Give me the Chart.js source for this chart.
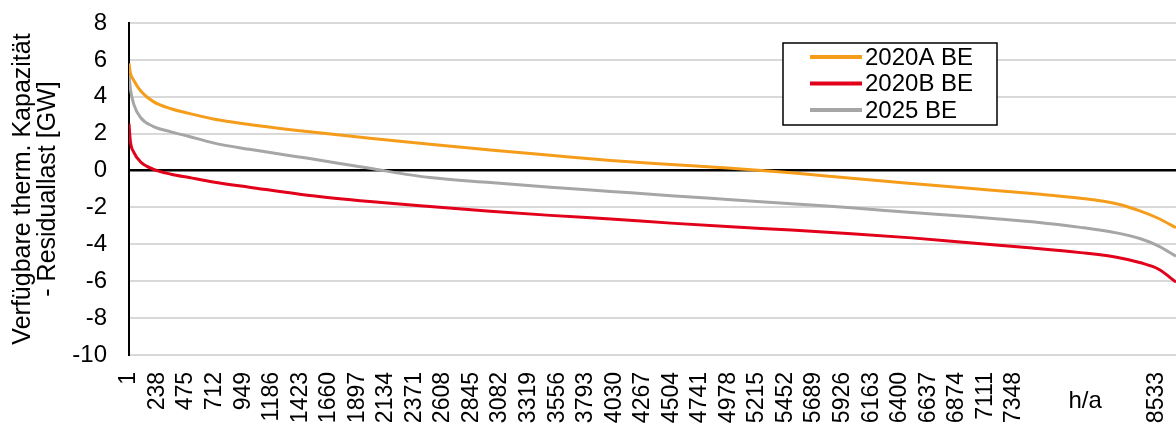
<!doctype html>
<html>
<head>
<title>Residuallast Dauerlinie BE</title>
<script src="https://cdn.jsdelivr.net/npm/chart.js@4/dist/chart.umd.min.js"></script>
<style>
	html, body { margin: 0; padding: 0; background: #fff; overflow: hidden; }
	#wrap { width: 1176px; height: 426px; }
</style>
</head>
<body>
<div id="wrap"><canvas id="canvas"></canvas></div>
<script>
	// hours of the year (sorted duration curve)
	var hours = [1, 12, 40, 100, 200, 350, 500, 700, 1000, 1500, 2000, 2500, 3000, 3500,
		4000, 4500, 5000, 5500, 6000, 6500, 7000, 7500, 7900, 8200, 8400, 8550, 8694];

	var be2020A = [5.8, 5.3, 4.9, 4.3, 3.75, 3.35, 3.1, 2.8, 2.5, 2.1, 1.75, 1.42, 1.12, 0.83,
		0.55, 0.33, 0.12, -0.12, -0.42, -0.7, -0.97, -1.25, -1.5, -1.8, -2.2, -2.6, -3.1];
	var be2020B = [2.55, 1.6, 1.0, 0.45, 0.08, -0.2, -0.38, -0.62, -0.9, -1.35, -1.68, -1.95, -2.2, -2.43,
		-2.63, -2.85, -3.05, -3.22, -3.42, -3.65, -3.93, -4.2, -4.45, -4.7, -5.0, -5.35, -6.05];
	var be2025 = [5.2, 4.45, 3.6, 2.85, 2.4, 2.1, 1.85, 1.5, 1.15, 0.65, 0.12, -0.38, -0.65, -0.9,
		-1.13, -1.36, -1.58, -1.8, -2.02, -2.28, -2.5, -2.78, -3.08, -3.38, -3.7, -4.1, -4.65];

	var seriesNames = ['2020A BE', '2020B BE', '2025 BE'];
	var seriesColors = ['#f59d1b', '#e2001a', '#a6a6a6'];

	// category labels shown under the axis (7585..8296 sit behind the "h/a" title)
	var xTickLabels = [1, 238, 475, 712, 949, 1186, 1423, 1660, 1897, 2134, 2371, 2608, 2845, 3082,
		3319, 3556, 3793, 4030, 4267, 4504, 4741, 4978, 5215, 5452, 5689, 5926, 6163, 6400, 6637,
		6874, 7111, 7348, 8533];
	var yTicks = [-10, -8, -6, -4, -2, 0, 2, 4, 6, 8];

	var FONT = "'Liberation Sans', Arial, sans-serif";

	function points(values) {
		return values.map(function(v, i) {
			return {x: hours[i], y: v};
		});
	}

	var boxLegend = {
		id: 'boxLegend',
		afterDraw: function(chart) {
			var ctx = chart.ctx;
			var bx = 783, by = 43, bw = 214, bh = 82;
			ctx.save();
			ctx.fillStyle = '#fff';
			ctx.fillRect(bx, by, bw, bh);
			ctx.strokeStyle = '#000';
			ctx.lineWidth = 1.5;
			ctx.strokeRect(bx, by, bw, bh);
			ctx.font = '24px ' + FONT;
			ctx.textBaseline = 'middle';
			ctx.textAlign = 'left';
			chart.data.datasets.forEach(function(ds, i) {
				var y = by + 14 + i * 26.5;
				ctx.strokeStyle = ds.borderColor;
				ctx.lineWidth = 4;
				ctx.beginPath();
				ctx.moveTo(810, y);
				ctx.lineTo(862, y);
				ctx.stroke();
				ctx.fillStyle = '#000';
				ctx.fillText(ds.label, 865, y + 1);
			});
			// axis title "h/a" sitting among the category labels
			var xs = chart.scales.x;
			ctx.font = '24px ' + FONT;
			ctx.textAlign = 'center';
			ctx.fillText('h/a', xs.getPixelForValue(7940), 401);
			ctx.restore();
		}
	};

	var config = {
		type: 'line',
		data: {
			datasets: seriesNames.map(function(name, i) {
				return {
					label: name,
					data: points([be2020A, be2020B, be2025][i]),
					borderColor: seriesColors[i],
					backgroundColor: seriesColors[i],
					borderWidth: 3,
					pointRadius: 0,
					fill: false,
					cubicInterpolationMode: 'monotone'
				};
			})
		},
		options: {
			responsive: true,
			maintainAspectRatio: false,
			animation: false,
			layout: {padding: {top: 23, right: 0, bottom: 0, left: 0}},
			plugins: {
				legend: {display: false},
				tooltip: {enabled: false}
			},
			scales: {
				x: {
					type: 'linear',
					min: 1,
					max: 8694,
					afterBuildTicks: function(axis) {
						axis.ticks = xTickLabels.map(function(v) { return {value: v}; });
					},
					afterFit: function(axis) {
						axis.height = 71;
						axis.paddingLeft = 0;
						axis.paddingRight = 0;
					},
					grid: {display: false, drawTicks: false},
					border: {display: false},
					ticks: {
						autoSkip: false,
						minRotation: 90,
						maxRotation: 90,
						padding: 17,
						color: '#000',
						font: {family: FONT, size: 23},
						callback: function(v) { return String(v); }
					}
				},
				y: {
					min: -10,
					max: 8,
					afterBuildTicks: function(axis) {
						axis.ticks = yTicks.map(function(v) { return {value: v}; });
					},
					afterFit: function(axis) {
						axis.width = 129;
						axis.paddingTop = 0;
						axis.paddingBottom = 0;
					},
					grid: {
						drawTicks: false,
						color: function(c) { return c.tick && c.tick.value === 0 ? '#000' : '#d9d9d9'; },
						lineWidth: function(c) { return c.tick && c.tick.value === 0 ? 2.5 : 2; }
					},
					border: {display: true, color: '#000', width: 2},
					ticks: {
						padding: 22,
						color: '#000',
						font: {family: FONT, size: 24}
					},
					title: {
						display: true,
						text: ['Verfügbare therm. Kapazität', '- Residuallast [GW]'],
						color: '#000',
						font: {family: FONT, size: 25, lineHeight: 1.0},
						padding: {top: 11, bottom: 0}
					}
				}
			}
		},
		plugins: [boxLegend]
	};

	window.onload = function() {
		var ctx = document.getElementById('canvas').getContext('2d');
		window.myLine = new Chart(ctx, config);
	};
</script>
</body>
</html>
